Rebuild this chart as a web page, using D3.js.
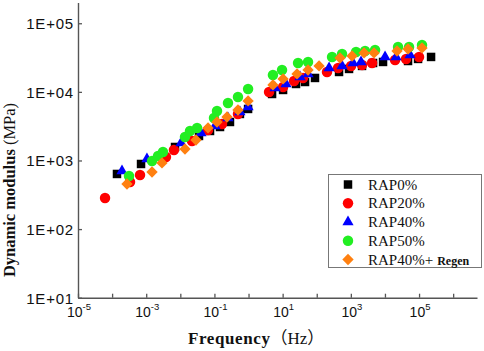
<!DOCTYPE html>
<html>
<head>
<meta charset="utf-8">
<script src="https://cdn.jsdelivr.net/npm/d3@7"></script>
<style>
	body { margin: 0; background: #fff; }
	svg { display: block; }
	.tick text { fill: #111; }
</style>
</head>
<body>
<div id="chart"></div>
<script>
// series values (frequency in Hz, modulus in MPa)
var rap0Freq = [1.39e-4, 7.05e-4, 7.0e-3, 0.0353, 0.0743, 0.146, 0.286, 0.56, 0.97, 4.9, 10.3, 24.7, 45.4, 89, 451, 885, 2130, 4480, 8790, 47500, 93500, 225000];
var rap0Mod = [636, 889, 1573, 2276, 2692, 3076, 3640, 4764, 5636, 9311, 10660, 13030, 13930, 15950, 19500, 21580, 23880, 26360, 27290, 28180, 30200, 32280];

var rap20Freq = [6.2e-5, 3.35e-4, 6.58e-4, 3.8e-3, 6.5e-3, 0.022, 0.065, 0.167, 0.49, 4.0, 10.3, 21.6, 39.6, 200, 422, 1014, 2130, 4190, 19800, 41600, 100000];
var rap20Mod = [284, 486, 615, 1125, 1422, 1924, 2786, 3404, 4764, 9977, 11780, 14420, 15950, 19500, 22280, 23880, 24660, 26360, 29170, 30200, 32280];

var rap40Freq = [1.95e-4, 1.05e-3, 0.0105, 0.0405, 0.104, 0.25, 0.56, 0.97, 6.0, 12.6, 32.4, 55.6, 230, 552, 1161, 1990, 10070, 21200, 54400];
var rap40Mod = [703, 1052, 1799, 2518, 3184, 4169, 5093, 6026, 11400, 13030, 16480, 18240, 22280, 23880, 26360, 27290, 32280, 32280, 34510];

var rap50Freq = [3.13e-4, 1.48e-3, 2.22e-3, 3.1e-3, 0.0137, 0.0192, 0.031, 0.097, 0.119, 0.25, 0.49, 0.97, 5.2, 9.6, 28.3, 55.6, 281, 552, 1420, 2610, 5130, 24200, 50900, 122000];
var rap50Mod = [594, 984, 1163, 1330, 2200, 2692, 2979, 4169, 5272, 6887, 8433, 11020, 17620, 20840, 26360, 27290, 32280, 35650, 38190, 39450, 40830, 45180, 45180, 48310];

var regenFreq = [2.73e-4, 1.48e-3, 2.9e-3, 0.0137, 0.0288, 0.065, 0.119, 0.234, 0.49, 0.97, 5.2, 10.3, 26.4, 55.6, 117, 482, 1084, 2440, 4790, 22600, 47500, 122000];
var regenMod = [454, 680, 920, 1471, 1990, 2979, 3640, 4305, 5445, 7370, 12610, 15420, 18240, 20840, 23880, 31190, 33340, 36900, 36900, 39450, 42170, 43650];

// tick labels
var xTickValues = [1e-5, 1e-4, 1e-3, 1e-2, 1e-1, 1, 10, 100, 1e3, 1e4, 1e5, 1e6];
var xLabelExponents = [-5, -3, -1, 1, 3, 5];
var yTickValues = [1e1, 1e2, 1e3, 1e4, 1e5];
var yTickLabels = ["1E+01", "1E+02", "1E+03", "1E+04", "1E+05"];

var seriesNames = ["RAP0%", "RAP20%", "RAP40%", "RAP50%", "RAP40%+"];

var WIDTH = 484, HEIGHT = 351;
var AXIS_COLOR = "#555";

var series = [
	{ name: seriesNames[0], freq: rap0Freq, mod: rap0Mod, color: "#000000", shape: "square" },
	{ name: seriesNames[1], freq: rap20Freq, mod: rap20Mod, color: "#ff0000", shape: "circle" },
	{ name: seriesNames[2], freq: rap40Freq, mod: rap40Mod, color: "#0000ff", shape: "triangle" },
	{ name: seriesNames[3], freq: rap50Freq, mod: rap50Mod, color: "#22ee22", shape: "circle" },
	{ name: seriesNames[4], freq: regenFreq, mod: regenMod, color: "#ff8010", shape: "diamond" }
];

var svg = d3.select("#chart").append("svg")
	.attr("width", WIDTH)
	.attr("height", HEIGHT);

var x = d3.scaleLog().domain([1e-5, 5e6]).range([78, 477]);
var y = d3.scaleLog().domain([1e1, 2e5]).range([297.7, 2.6]);

// returns a marker path for given shape
function markerPath(shape) {
	if (shape === "square") return d3.symbol(d3.symbolSquare, 72)();
	if (shape === "circle") return d3.symbol(d3.symbolCircle, 86)();
	if (shape === "triangle") return d3.symbol(d3.symbolTriangle, 54)();
	return d3.symbol(d3.symbolSquare, 64)();
}

function markerTransform(shape, px, py) {
	var t = "translate(" + px + "," + py + ")";
	return shape === "diamond" ? t + " rotate(45)" : t;
}

// data points
series.forEach(function (s) {
	var pts = s.freq.map(function (f, i) { return [f, s.mod[i]]; });
	svg.append("g").selectAll("path")
		.data(pts)
		.join("path")
		.attr("d", markerPath(s.shape))
		.attr("fill", s.color)
		.attr("transform", function (d) { return markerTransform(s.shape, x(d[0]), y(d[1])); });
});

// y axis, ticks pointing inward
var yAxis = svg.append("g")
	.attr("transform", "translate(78,0)")
	.call(d3.axisLeft(y)
		.tickValues(yTickValues)
		.tickFormat(function (d, i) { return yTickLabels[i]; })
		.tickSize(-4)
		.tickSizeOuter(0)
		.tickPadding(4));

yAxis.selectAll("text")
	.attr("font-family", "'Liberation Sans', Arial, sans-serif")
	.attr("font-size", 15)
	.attr("letter-spacing", 0.8)
	.attr("dy", "0.36em");

// x axis, labels are drawn separately with superscripts
var xAxis = svg.append("g")
	.attr("transform", "translate(0,297.7)")
	.call(d3.axisBottom(x)
		.tickValues(xTickValues)
		.tickFormat("")
		.tickSize(-4)
		.tickSizeOuter(0));

[yAxis, xAxis].forEach(function (ax) {
	ax.select(".domain").attr("stroke", AXIS_COLOR).attr("stroke-width", 1.4);
	ax.selectAll(".tick line").attr("stroke", AXIS_COLOR).attr("stroke-width", 1.3);
});

var xLabels = svg.append("g")
	.attr("font-family", "'Liberation Sans', Arial, sans-serif")
	.attr("fill", "#111");

xLabelExponents.forEach(function (e) {
	var t = xLabels.append("text")
		.attr("x", x(Math.pow(10, e)) + 1)
		.attr("y", 316.5)
		.attr("text-anchor", "middle")
		.attr("font-size", 14);
	t.append("tspan").text("10");
	t.append("tspan").attr("dy", -7).attr("font-size", 9.5).text(e);
});

// axis titles
var xTitle = svg.append("text")
	.attr("x", 188)
	.attr("y", 344)
	.attr("font-family", "'Liberation Serif', 'Times New Roman', serif")
	.attr("fill", "#111");
xTitle.append("tspan").attr("font-weight", "bold").attr("font-size", 17).attr("letter-spacing", 0.6).text("Frequency");
xTitle.append("tspan")
	.attr("font-size", 17)
	.attr("font-family", "'Liberation Serif', 'Noto Sans CJK SC', serif")
	.text("（Hz）");

var yTitle = svg.append("text")
	.attr("transform", "translate(15,190) rotate(-90)")
	.attr("text-anchor", "middle")
	.attr("font-family", "'Liberation Serif', 'Times New Roman', serif")
	.attr("font-size", 16.5)
	.attr("fill", "#111");
yTitle.append("tspan").attr("font-weight", "bold").text("Dynamic modulus ");
yTitle.append("tspan").text("(MPa)");

// legend
var legend = svg.append("g");
legend.append("rect")
	.attr("x", 328.5)
	.attr("y", 174.5)
	.attr("width", 153)
	.attr("height", 93)
	.attr("fill", "#fff")
	.attr("stroke", "#777")
	.attr("stroke-width", 1);

var rowY = d3.scalePoint().domain(d3.range(series.length)).range([184.5, 259.5]);

series.forEach(function (s, i) {
	legend.append("path")
		.attr("d", markerPath(s.shape))
		.attr("fill", s.color)
		.attr("transform", markerTransform(s.shape, 348, rowY(i)));
	var t = legend.append("text")
		.attr("x", 368)
		.attr("y", rowY(i) + 5)
		.attr("font-family", "'Liberation Serif', 'Times New Roman', serif")
		.attr("font-size", 15)
		.attr("fill", "#111")
		.text(s.name);
	if (i === series.length - 1) {
		t.append("tspan")
			.attr("dx", 4)
			.attr("font-size", 12)
			.attr("font-weight", "bold")
			.text("Regen");
	}
});
</script>
</body>
</html>
